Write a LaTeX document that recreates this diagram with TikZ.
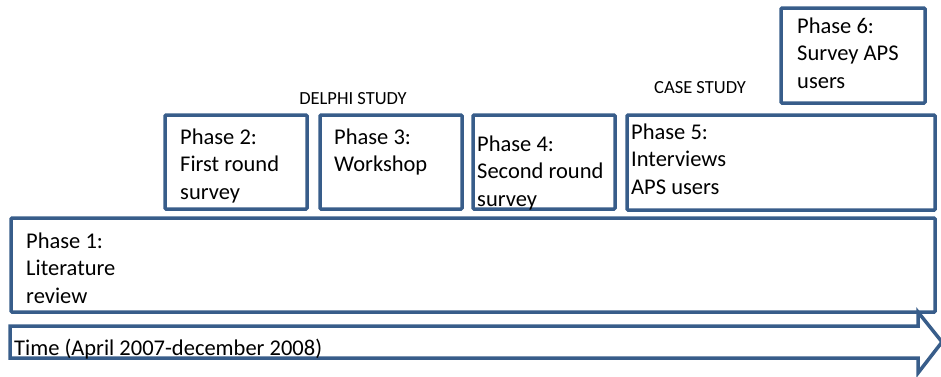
\documentclass[tikz,border=0pt]{standalone}
\usepackage{fontspec}
\setmainfont{Carlito}
\definecolor{edge}{HTML}{385D8A}
% left-aligned lines; the baseline is that of the first line
\newcommand\phaselines[1]{\begin{tabular}[t]{@{}l@{}}#1\end{tabular}}

\begin{document}
\begin{tikzpicture}[x=1pt,y=-1pt,
  phasebox/.style={draw=edge, line width=3.5pt, fill=white, rounded corners=1pt,
    anchor=north west, inner sep=0pt, outer sep=0pt},
  phasetext/.style={anchor=base west, inner sep=0pt, font=\fontsize{22.5}{27.5}\selectfont},
  studylabel/.style={anchor=base, inner sep=0pt, font=\fontsize{18.5}{22}\selectfont}]
\useasboundingbox (0,0) rectangle (941,376);

% phase boxes
\node[phasebox, minimum width=924pt, minimum height=94pt] (p1) at (11,218) {};
\node[phasebox, minimum width=142pt, minimum height=94pt] (p2) at (165,115) {};
\node[phasebox, minimum width=142pt, minimum height=94pt] (p3) at (320,115) {};
\node[phasebox, minimum width=142pt, minimum height=94pt] (p4) at (473,115) {};
\node[phasebox, minimum width=308pt, minimum height=95pt] (p5) at (627,115) {};
\node[phasebox, minimum width=144pt, minimum height=95pt] (p6) at (781,8) {};

% time arrow
\draw[draw=edge, line width=3.5pt, fill=white, line join=miter]
  (10,326) -- (918,326) -- (918,312) -- (942,342) -- (918,373) -- (918,358) -- (10,358) -- cycle;

% box texts
\node[phasetext] (t1) at (26,248) {\phaselines{Phase 1:\\Literature\\review}};
\node[phasetext] (t2) at (180,144) {\phaselines{Phase 2:\\First round\\survey}};
\node[phasetext] (t3) at (334,144) {\phaselines{Phase 3:\\Workshop}};
\node[phasetext] (t4) at (477,151) {\phaselines{Phase 4:\\Second round\\survey}};
\node[phasetext] (t5) at (631,139) {\phaselines{Phase 5:\\Interviews\\APS users}};
\node[phasetext] (t6) at (797,33) {\phaselines{Phase 6:\\Survey APS\\users}};
\node[phasetext] (time) at (14,355) {Time (April 2007-december 2008)};

% study labels
\node[studylabel] (delphi) at (353,104) {DELPHI STUDY};
\node[studylabel] (case) at (700,93) {CASE STUDY};
\end{tikzpicture}
\end{document}
